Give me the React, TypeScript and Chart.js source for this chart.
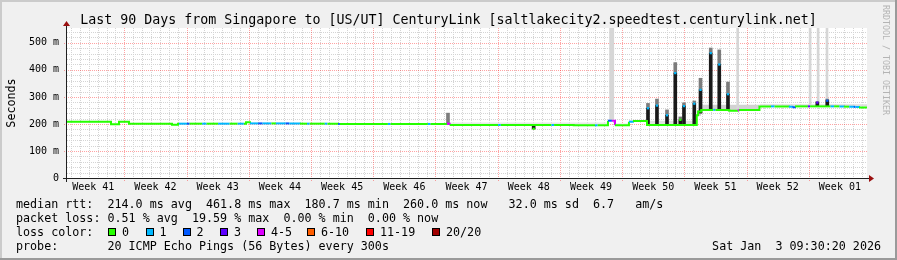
import React, { useEffect, useRef } from 'react';
import { Chart, registerables } from 'chart.js';

Chart.register(...registerables);

const W = 897;
const H = 260;
const FONT = "'DejaVu Sans Mono', monospace";

// ---- axes (x in days since the start of the 90-day window, y in ms) ----
const weekLabels = ['Week 41', 'Week 42', 'Week 43', 'Week 44', 'Week 45', 'Week 46', 'Week 47', 'Week 48', 'Week 49', 'Week 50', 'Week 51', 'Week 52', 'Week 01'];
const weekCenterDays = [2.95, 9.95, 16.95, 23.95, 30.95, 37.95, 44.95, 51.95, 58.95, 65.95, 72.95, 79.95, 86.95];
const weekStartDays = [6.45, 13.45, 20.45, 27.45, 34.45, 41.45, 48.45, 55.45, 62.45, 69.45, 76.45, 83.45];
const yTicks = [0, 100, 200, 300, 400, 500];
const yTickLabels = ['0', '100 m', '200 m', '300 m', '400 m', '500 m'];

// ---- loss colours ----
const lossLabels = ['0', '1', '2', '3', '4-5', '6-10', '11-19', '20/20'];
const lossColors = ['#26ff00', '#00b8ff', '#0059ff', '#5e00ff', '#dd00ff', '#ff5e00', '#ff0000', '#a10000'];

// ---- median rtt (ms), step series: value holds from its day until the next ----
const medianDay = [0, 4.95, 5.85, 6.97, 11.81, 12.49, 12.6, 13.5, 13.8, 15.2, 15.7, 17.0, 18.3, 19.2, 19.9, 20.14, 20.59, 21.5, 22.0, 23.0, 23.5, 24.6, 25.0, 26.2, 27.0, 27.3, 29.0, 29.3, 30.5, 30.7, 36.1, 36.4, 40.6, 40.9, 42.86, 43.05, 48.5, 48.8, 54.5, 54.8, 57.0, 59.4, 59.7, 60.86, 61.3, 61.65, 63.22, 63.67, 65.25, 70.85, 71.0, 71.35, 72.7, 72.95, 74.5, 75.45, 75.6, 77.9, 79.2, 79.6, 81.2, 81.6, 81.9, 83.35, 83.6, 85.9, 86.3, 86.9, 87.4, 88.0, 88.5, 88.7, 89.1, 90];
const medianMs = [208, 199, 208, 201, 197, 201, 201, 201, 201, 201, 201, 201, 201, 201, 201, 206, 202, 202, 202, 202, 202, 202, 202, 201, 201, 201, 201, 201, 200, 200, 200, 200, 200, 200, 201, 196, 196, 196, 196, 196, 195, 195, 195, 212, 212, 195, 208, 211, 196, 232, 246, 252, 252, 252, 249, 251, 252, 265, 265, 265, 264, 262, 265, 265, 265, 265, 265, 265, 264, 264, 263, 263, 261, 260];
const medianLoss = [0, 0, 0, 0, 0, 0, 1, 2, 0, 1, 0, 1, 0, 1, 0, 0, 1, 2, 1, 0, 1, 2, 1, 0, 1, 0, 1, 0, 2, 0, 1, 0, 1, 0, 4, 0, 1, 0, 1, 0, 0, 1, 0, 2, 4, 0, 1, 0, 0, 0, 0, 0, 1, 0, 0, 4, 0, 0, 1, 0, 1, 2, 0, 3, 0, 1, 0, 1, 0, 1, 2, 1, 0, 0];

// ---- smoke band around the median (step series) ----
const smokeDay = [0, 43.05, 60.86, 61.65, 63.22, 65.25, 70.85, 71.35, 77.9, 90];
const smokeLo = [200, 196, 195, 195, 208, 196, 230, 252, 265, 265];
const smokeHi = [200, 205, 195, 202, 214, 212, 250, 271, 273, 273];
const smokeShade = ['#e8e8e8', '#e8e8e8', '#e4e4e4', '#e4e4e4', '#dedede', '#e2e2e2', '#cfcfcf', '#d2d2d2', '#dedede', '#dedede'];

// ---- spikes: dense smoke up to the median, lighter smoke above ----
const spikeDay = [42.86, 52.5, 65.36, 66.37, 67.5, 68.43, 69.0, 69.41, 70.57, 71.27, 72.42, 73.38, 74.36, 84.41, 85.53];
const spikeBase = [200, 196, 196, 196, 196, 196, 196, 196, 196, 240, 252, 252, 249, 265, 265];
const spikeMedian = [201, 182, 258, 268, 232, 388, 215, 266, 275, 326, 462, 420, 310, 279, 286];
const spikeTop = [240, 182, 276, 292, 252, 427, 226, 278, 285, 369, 481, 474, 355, 283, 292];
const spikeLoss = [4, 0, 1, 1, 1, 1, 0, 1, 1, 1, 1, 1, 1, 3, 2];

// ---- sparse outlier pings (light smoke) ----
const outlierDay = [61.15, 61.4, 75.45, 83.6, 84.5, 85.5];
const outlierLo = [212, 212, 252, 265, 265, 265];
const outlierHi = [555, 555, 555, 555, 555, 555];

const legendBoxX = [108, 145.5, 182.5, 220, 257, 307, 366, 432];

const rrdPlugin = {
  id: 'rrdLook',
  beforeDraw(chart: any) {
    const { ctx, chartArea: a } = chart;
    const xs = chart.scales.x;
    const ys = chart.scales.y;
    ctx.save();
    ctx.fillStyle = '#f0f0f0';
    ctx.fillRect(0, 0, W, H);
    ctx.fillStyle = '#cbcbcb';
    ctx.fillRect(0, 0, W, 2);
    ctx.fillRect(0, 0, 2, H);
    ctx.fillStyle = '#9a9a9a';
    ctx.fillRect(0, H - 2, W, 2);
    ctx.fillRect(W - 2, 0, 2, H);
    ctx.fillStyle = '#ffffff';
    ctx.fillRect(a.left, a.top, a.right - a.left, a.bottom - a.top);

    ctx.lineWidth = 1;
    ctx.setLineDash([1, 1]);
    // minor grid: days and 20 ms
    ctx.strokeStyle = '#d4d4d4';
    ctx.beginPath();
    for (let k = 0; k < 90; k++) {
      if ((k - 6) % 7 === 0) continue;
      const px = Math.round(xs.getPixelForValue(0.45 + k)) + 0.5;
      ctx.moveTo(px, a.top);
      ctx.lineTo(px, a.bottom);
    }
    for (let v = 20; v < 555; v += 20) {
      if (v % 100 === 0) continue;
      const py = Math.round(ys.getPixelForValue(v)) + 0.5;
      ctx.moveTo(a.left, py);
      ctx.lineTo(a.right, py);
    }
    ctx.stroke();
    // major grid: weeks and 100 ms
    ctx.strokeStyle = 'rgba(255,0,0,0.36)';
    ctx.beginPath();
    weekStartDays.forEach((d) => {
      const px = Math.round(xs.getPixelForValue(d)) + 0.5;
      ctx.moveTo(px, a.top);
      ctx.lineTo(px, a.bottom + 3);
    });
    yTicks.forEach((v) => {
      if (v === 0) return;
      const py = Math.round(ys.getPixelForValue(v)) + 0.5;
      ctx.moveTo(a.left - 3, py);
      ctx.lineTo(a.right, py);
    });
    ctx.stroke();
    ctx.restore();
  },
  afterDatasetsDraw(chart: any) {
    const { ctx, chartArea: a } = chart;
    ctx.save();
    ctx.setLineDash([]);
    ctx.strokeStyle = '#202020';
    ctx.lineWidth = 1;
    ctx.beginPath();
    ctx.moveTo(a.left - 4, a.bottom + 0.5);
    ctx.lineTo(a.right + 2, a.bottom + 0.5);
    ctx.moveTo(a.left - 0.5, a.bottom + 4);
    ctx.lineTo(a.left - 0.5, a.top - 2);
    ctx.stroke();
    ctx.fillStyle = '#9a1010';
    ctx.beginPath();
    ctx.moveTo(a.right + 2, a.bottom - 3);
    ctx.lineTo(a.right + 7, a.bottom + 0.5);
    ctx.lineTo(a.right + 2, a.bottom + 4);
    ctx.closePath();
    ctx.fill();
    ctx.beginPath();
    ctx.moveTo(a.left - 4, a.top - 2);
    ctx.lineTo(a.left - 0.5, a.top - 7);
    ctx.lineTo(a.left + 3, a.top - 2);
    ctx.closePath();
    ctx.fill();
    ctx.restore();
  },
};

export default function App() {
  const ref = useRef<HTMLCanvasElement | null>(null);

  useEffect(() => {
    document.body.style.margin = '0';
    document.body.style.overflow = 'hidden';
    const canvas = ref.current;
    if (!canvas) return;

    const medianData = medianDay.map((d, i) => ({ x: d, y: medianMs[i] }));
    const chart = new Chart(canvas, {
      type: 'line',
      data: {
        datasets: [
          {
            type: 'line',
            data: smokeDay.map((d, i) => ({ x: d, y: smokeLo[i] })),
            stepped: true,
            borderWidth: 0,
            pointRadius: 0,
            fill: false,
            order: 6,
          } as any,
          {
            type: 'line',
            data: smokeDay.map((d, i) => ({ x: d, y: smokeHi[i] })),
            stepped: true,
            borderWidth: 0,
            borderColor: 'rgba(0,0,0,0)',
            pointRadius: 0,
            fill: '-1',
            backgroundColor: '#dcdcdc',
            segment: { backgroundColor: (c: any) => smokeShade[c.p0DataIndex] },
            order: 5,
          } as any,
          {
            type: 'bar',
            data: outlierDay.map((d, i) => ({ x: d, y: [outlierLo[i], outlierHi[i]] })),
            backgroundColor: '#d6d6d6',
            barThickness: 2,
            grouped: false,
            borderWidth: 0,
            order: 4,
          } as any,
          {
            type: 'bar',
            data: spikeDay.map((d, i) => ({ x: d, y: [spikeMedian[i], spikeTop[i]] })),
            backgroundColor: '#7c7c7c',
            barThickness: 3,
            grouped: false,
            borderWidth: 0,
            order: 3.5,
          } as any,
          {
            type: 'bar',
            data: spikeDay.map((d, i) => ({ x: d, y: [spikeBase[i], spikeMedian[i]] })),
            backgroundColor: '#1a1a1a',
            barThickness: 3,
            grouped: false,
            borderWidth: 0,
            order: 3,
          } as any,
          {
            type: 'line',
            data: medianData,
            stepped: true,
            borderWidth: 2,
            pointRadius: 0,
            fill: false,
            borderColor: lossColors[0],
            segment: { borderColor: (c: any) => lossColors[medianLoss[c.p0DataIndex]] },
            order: 2,
          } as any,
          {
            type: 'line',
            data: spikeDay.map((d, i) => ({ x: d, y: spikeMedian[i] })),
            showLine: false,
            pointStyle: 'rect',
            pointRadius: 1.6,
            pointBorderWidth: 0,
            pointBackgroundColor: spikeLoss.map((l) => lossColors[l]),
            pointBorderColor: spikeLoss.map((l) => lossColors[l]),
            order: 1,
          } as any,
        ],
      },
      options: {
        responsive: false,
        animation: false,
        devicePixelRatio: 1,
        events: [],
        layout: { padding: { left: 0, right: 30, top: 28, bottom: 62 } },
        plugins: { legend: { display: false }, tooltip: { enabled: false }, title: { display: false } },
        scales: {
          x: {
            type: 'linear',
            min: 0,
            max: 90,
            offset: false,
            grid: { display: false, drawTicks: false },
            border: { display: false },
            afterBuildTicks: (s: any) => {
              s.ticks = weekCenterDays.map((v) => ({ value: v }));
            },
            afterFit: (s: any) => {
              s.height = 20;
            },
            ticks: {
              autoSkip: false,
              maxRotation: 0,
              minRotation: 0,
              padding: 3,
              color: '#000',
              font: { family: FONT, size: 10 },
              callback: (_v: any, i: number) => weekLabels[i],
            },
          },
          y: {
            type: 'linear',
            min: 0,
            max: 555,
            grid: { display: false, drawTicks: false },
            border: { display: false },
            afterBuildTicks: (s: any) => {
              s.ticks = yTicks.map((v) => ({ value: v }));
            },
            afterFit: (s: any) => {
              s.width = 67;
            },
            ticks: {
              padding: 8,
              color: '#000',
              font: { family: FONT, size: 10 },
              callback: (_v: any, i: number) => yTickLabels[i],
            },
          },
        },
      } as any,
      plugins: [rrdPlugin],
    });
    return () => chart.destroy();
  }, []);

  const txt: React.CSSProperties = {
    position: 'absolute',
    fontFamily: FONT,
    fontSize: '11.7px',
    lineHeight: '14px',
    height: '14px',
    whiteSpace: 'pre',
    color: '#000',
  };

  return (
    <div style={{ position: 'relative', width: W, height: H, overflow: 'hidden' }}>
      <canvas ref={ref} width={W} height={H} style={{ display: 'block', width: W, height: H }} />
      <div style={{ ...txt, left: 0, width: W, top: 11, height: 17, lineHeight: '17px', fontSize: '13.3px', textAlign: 'center' }}>
        Last 90 Days from Singapore to [US/UT] CenturyLink [saltlakecity2.speedtest.centurylink.net]
      </div>
      <div style={{ ...txt, left: 10.8 - 30, top: 103 - 7, width: 60, textAlign: 'center', transform: 'rotate(-90deg)' }}>Seconds</div>
      <div style={{ ...txt, left: 881, top: 5, fontSize: '8.3px', lineHeight: '10px', height: 'auto', color: '#b4b4b4', writingMode: 'vertical-rl' }}>
        RRDTOOL / TOBI OETIKER
      </div>
      <div style={{ ...txt, left: 16, top: 204.3 - 7 }}>
        {'median rtt:  214.0 ms avg  461.8 ms max  180.7 ms min  260.0 ms now   32.0 ms sd  6.7   am/s'}
      </div>
      <div style={{ ...txt, left: 16, top: 218.3 - 7 }}>{'packet loss: 0.51 % avg  19.59 % max  0.00 % min  0.00 % now'}</div>
      <div style={{ ...txt, left: 16, top: 232.3 - 7 }}>{'loss color:'}</div>
      {lossLabels.map((lab, i) => (
        <React.Fragment key={lab}>
          <div
            style={{
              position: 'absolute',
              left: legendBoxX[i],
              top: 228,
              width: 8,
              height: 8,
              boxSizing: 'border-box',
              border: '1px solid #000',
              background: lossColors[i],
            }}
          />
          <div style={{ ...txt, left: legendBoxX[i] + 14, top: 232.3 - 7 }}>{lab}</div>
        </React.Fragment>
      ))}
      <div style={{ ...txt, left: 16, top: 246.3 - 7 }}>{'probe:       20 ICMP Echo Pings (56 Bytes) every 300s'}</div>
      <div style={{ ...txt, right: 16, top: 246.3 - 7 }}>{'Sat Jan  3 09:30:20 2026'}</div>
    </div>
  );
}
